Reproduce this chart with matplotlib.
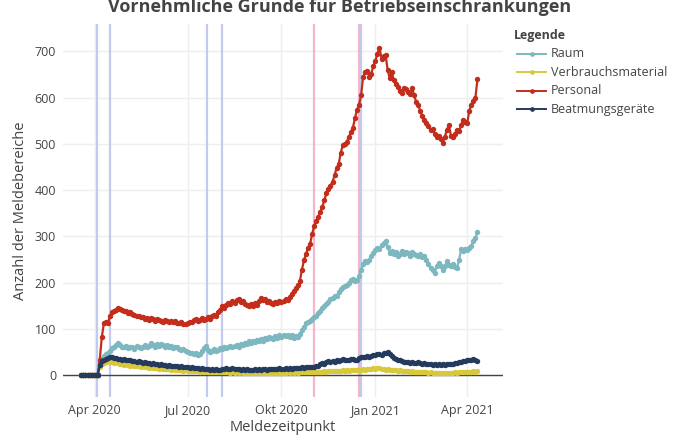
import numpy as np
import pandas as pd
import matplotlib
matplotlib.use("Agg")
import matplotlib.pyplot as plt
import matplotlib.dates as mdates
from matplotlib.lines import Line2D

plt.rcParams['font.family'] = ['Open Sans', 'DejaVu Sans']

# Meldungen alle 2 Tage ab 19.03.2020
start = "2020-03-19"

personal = [
    0, 0, 0, 0, 0, 0, 0, 0, 0, 34,
    82, 112, 116, 113, 128, 136, 138, 142, 146, 144,
    141, 139, 138, 134, 137, 133, 130, 128, 129, 126,
    125, 122, 124, 120, 123, 121, 118, 121, 119, 117,
    116, 119, 117, 115, 118, 114, 117, 113, 112, 115,
    111, 110, 113, 116, 114, 119, 121, 117, 120, 123,
    119, 122, 125, 121, 127, 130, 128, 136, 142, 149,
    145, 152, 157, 154, 160, 156, 162, 164, 158, 161,
    155, 152, 149, 153, 150, 157, 151, 160, 166, 163,
    165, 158, 161, 157, 155, 159, 156, 160, 158, 161,
    165, 162, 170, 176, 182, 188, 194, 203, 228, 248,
    262, 275, 283, 305, 322, 333, 342, 352, 364, 378,
    394, 402, 410, 418, 432, 448, 456, 480, 497, 500,
    505, 515, 525, 535, 556, 573, 585, 605, 645, 655,
    658, 645, 652, 668, 680, 695, 708, 684, 690, 692,
    660, 642, 655, 638, 630, 622, 615, 610, 620, 618,
    612, 608, 620, 605, 590, 585, 570, 560, 552, 545,
    538, 530, 532, 522, 515, 518, 510, 502, 515, 530,
    541, 518, 515, 522, 530, 528, 540, 552, 548, 545,
    572, 584, 592, 600, 640,
]

raum = [
    0, 0, 0, 0, 0, 0, 0, 0, 0, 28,
    36, 42, 45, 48, 52, 58, 62, 66, 70, 66,
    62, 60, 64, 58, 62, 61, 56, 63, 60, 58,
    62, 66, 60, 64, 70, 66, 62, 67, 64, 68,
    66, 62, 65, 60, 63, 58, 62, 60, 56, 54,
    56, 52, 50, 47, 49, 45, 48, 44, 46, 52,
    58, 63, 54, 50, 53, 56, 52, 55, 58, 56,
    60, 58, 62, 64, 60, 63, 66, 62, 68, 66,
    70, 67, 73, 70, 74, 72, 76, 73, 78, 75,
    80, 78, 82, 80, 78, 84, 80, 86, 82, 88,
    84, 88, 82, 86, 80, 84, 82, 90, 98, 104,
    112, 115, 118, 122, 126, 128, 134, 138, 146, 150,
    153, 158, 164, 168, 172, 171, 180, 186, 190, 192,
    196, 200, 205, 208, 203, 205, 215, 228, 240, 246,
    244, 250, 258, 265, 270, 276, 272, 282, 286, 290,
    278, 265, 268, 263, 266, 258, 262, 268, 262, 266,
    264, 258, 266, 262, 260, 258, 262, 256, 258, 250,
    240, 232, 228, 222, 236, 243, 235, 228, 236, 246,
    238, 235, 240, 233, 232, 250, 272, 268, 272, 270,
    276, 280, 290, 296, 310,
]

beatmung = [
    0, 0, 0, 0, 0, 0, 0, 0, 0, 22,
    30, 34, 36, 38, 40, 39, 37, 38, 36, 35,
    34, 35, 33, 32, 33, 30, 31, 29, 30, 28,
    27, 28, 26, 27, 25, 26, 24, 25, 23, 24,
    22, 23, 21, 22, 20, 21, 19, 20, 18, 19,
    18, 17, 18, 16, 17, 15, 16, 15, 14, 15,
    14, 13, 14, 12, 13, 12, 13, 11, 12, 13,
    14, 15, 14, 13, 15, 14, 13, 14, 12, 13,
    12, 13, 12, 11, 12, 13, 12, 13, 12, 14,
    13, 12, 13, 14, 13, 14, 13, 15, 14, 13,
    15, 14, 15, 14, 16, 15, 16, 15, 17, 16,
    17, 18, 17, 18, 17, 19, 21, 24, 27, 25,
    28, 30, 28, 31, 29, 32, 30, 33, 35, 32,
    34, 33, 36, 35, 32, 34, 38, 39, 40, 39,
    41, 40, 42, 44, 43, 45, 46, 44, 47, 49,
    50, 46, 42, 38, 36, 34, 32, 30, 28, 29,
    28, 27, 28, 27, 26, 28, 26, 25, 26, 24,
    25, 24, 23, 24, 23, 24, 23, 24, 23, 25,
    24, 25, 24, 26, 27, 28, 29, 30, 31, 33,
    34, 33, 35, 32, 31,
]

verbrauch = [
    0, 0, 0, 0, 0, 0, 0, 0, 0, 18,
    24, 27, 28, 30, 29, 28, 27, 28, 26, 25,
    24, 23, 24, 22, 21, 22, 20, 19, 20, 18,
    19, 17, 18, 16, 17, 16, 15, 16, 14, 15,
    14, 13, 14, 13, 12, 13, 12, 11, 12, 11,
    10, 11, 10, 9, 10, 9, 10, 9, 8, 9,
    8, 9, 8, 7, 8, 7, 8, 7, 6, 7,
    6, 7, 6, 5, 6, 5, 6, 5, 6, 5,
    4, 5, 4, 5, 4, 5, 4, 5, 4, 5,
    4, 5, 4, 5, 4, 5, 4, 5, 5, 4,
    5, 6, 5, 6, 5, 6, 5, 6, 6, 7,
    6, 7, 6, 7, 7, 8, 7, 8, 8, 9,
    8, 9, 9, 10, 9, 10, 9, 10, 11, 10,
    11, 10, 11, 12, 11, 12, 11, 12, 13, 12,
    13, 14, 13, 15, 14, 16, 15, 14, 13, 12,
    13, 12, 11, 12, 11, 10, 11, 10, 9, 10,
    9, 8, 9, 8, 7, 8, 7, 6, 7, 6,
    5, 6, 5, 4, 5, 4, 5, 4, 5, 4,
    5, 4, 5, 6, 5, 6, 7, 6, 7, 8,
    7, 8, 9, 8, 9,
]

# Ereignisse (senkrechte Linien)
events_blue = ["2020-04-03", "2020-04-16", "2020-07-20", "2020-08-04", "2020-12-18"]
events_pink = ["2020-11-02", "2020-12-16"]

series = [
    ("Raum", raum, "#7db7bf"),
    ("Verbrauchsmaterial", verbrauch, "#d8c93c"),
    ("Personal", personal, "#c22d1c"),
    ("Beatmungsgeräte", beatmung, "#243b5e"),
]

dates = pd.date_range(start, periods=len(personal), freq="2D")

fig = plt.figure(figsize=(6.8, 4.37), dpi=100)
ax = fig.add_axes([63 / 680, 1 - 397 / 437, 440 / 680, 373 / 437])

for d in events_blue:
    ax.axvline(pd.Timestamp(d), color="#c2cbee", lw=1.6, zorder=1)
for d in events_pink:
    ax.axvline(pd.Timestamp(d), color="#f2afc6", lw=1.6, zorder=1, alpha=0.9)

for name, vals, col in series:
    ax.plot(dates, vals, color=col, lw=1.6, marker="o", ms=3.9,
            markeredgewidth=0, zorder=3, label=name)

ax.axhline(0, color="#444444", lw=1.0, zorder=2)

ax.set_xlim(pd.Timestamp("2020-03-01"), pd.Timestamp("2021-05-06"))
ax.set_ylim(-47, 759)
ax.set_yticks(range(0, 701, 100))
ax.xaxis.set_major_locator(mdates.MonthLocator(bymonth=[1, 4, 7, 10]))
mon = {1: "Jan", 4: "Apr", 7: "Jul", 10: "Okt"}
ax.xaxis.set_major_formatter(plt.FuncFormatter(
    lambda v, p: f"{mon[mdates.num2date(v).month]} {mdates.num2date(v).year}"))

ax.grid(True, color="#eeeeee", lw=1.0, zorder=0)
ax.set_axisbelow(True)
for s in ax.spines.values():
    s.set_visible(False)
ax.tick_params(length=0, labelsize=9, labelcolor="#444444", pad=5)

ax.set_xlabel("Meldezeitpunkt", fontsize=10.5, color="#444444", labelpad=2)
ax.set_ylabel("Anzahl der Meldebereiche", fontsize=10.5, color="#444444", labelpad=5)

fig.text(340 / 680, 1 - 7 / 437, "Vornehmliche Gründe für Betriebseinschränkungen",
         ha="center", va="center", fontsize=13, fontweight="bold", color="#444444")

# Legende
fig.text(514 / 680, 1 - 36 / 437, "Legende", ha="left", va="center",
         fontsize=9, fontweight="bold", color="#444444")
for i, (name, vals, col) in enumerate(series):
    y = 1 - (53.5 + i * 18.6) / 437
    fig.add_artist(Line2D([517 / 680, 546 / 680], [y, y], color=col, lw=1.4))
    fig.add_artist(Line2D([531.5 / 680], [y], color=col, marker="o", ms=3.4,
                          markeredgewidth=0))
    fig.text(551 / 680, y, name, ha="left", va="center", fontsize=9, color="#444444")

fig.savefig("out.png", dpi=100)
